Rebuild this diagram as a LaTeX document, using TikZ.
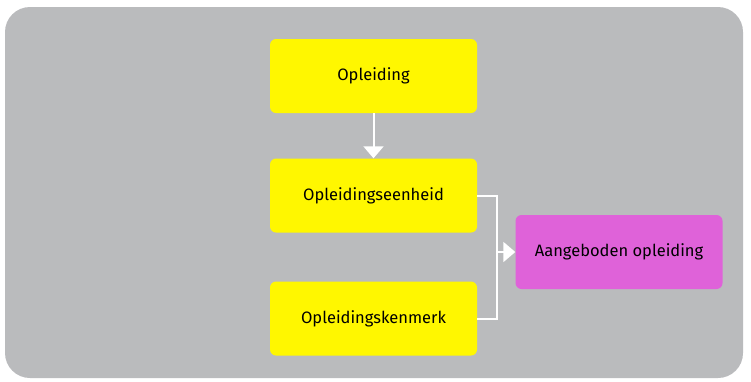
\documentclass[tikz,border=0pt]{standalone}
\usepackage{fontspec}
\setmainfont{Fira Sans}
\usetikzlibrary{arrows.meta}
\definecolor{bggray}{RGB}{186,187,189}
\definecolor{boxyellow}{RGB}{255,247,0}
\definecolor{boxpink}{RGB}{223,98,217}

\begin{document}
\begin{tikzpicture}[x=1pt,y=-1pt,
    ybox/.style={fill=boxyellow,rounded corners=6pt,minimum width=207pt,minimum height=74pt,font=\fontsize{16.5}{19}\selectfont},
    pbox/.style={ybox,fill=boxpink},
    wline/.style={draw=white,line width=2pt},
    warrow/.style={wline,-{Triangle[width=20pt,length=12pt]}}]
        \useasboundingbox (0,0) rectangle (751,381);
        \fill[bggray,rounded corners=25pt] (5,7) rectangle (743,378);
        \node[ybox] (opl) at (373.5,76) {Opleiding};
        \node[ybox] (eenheid) at (373.5,195.5) {Opleidingseenheid};
        \node[ybox] (kenmerk) at (373.5,318.5) {Opleidingskenmerk};
        \node[pbox] (aanbod) at (619,252) {Aangeboden opleiding};
        \coordinate (join) at (497,252);
        \draw[warrow] (opl) -- (eenheid);
        \draw[wline] (eenheid.east) -| (join) |- (kenmerk.east);
        \draw[warrow] (join) -- (aanbod.west);
    \end{tikzpicture}
\end{document}
